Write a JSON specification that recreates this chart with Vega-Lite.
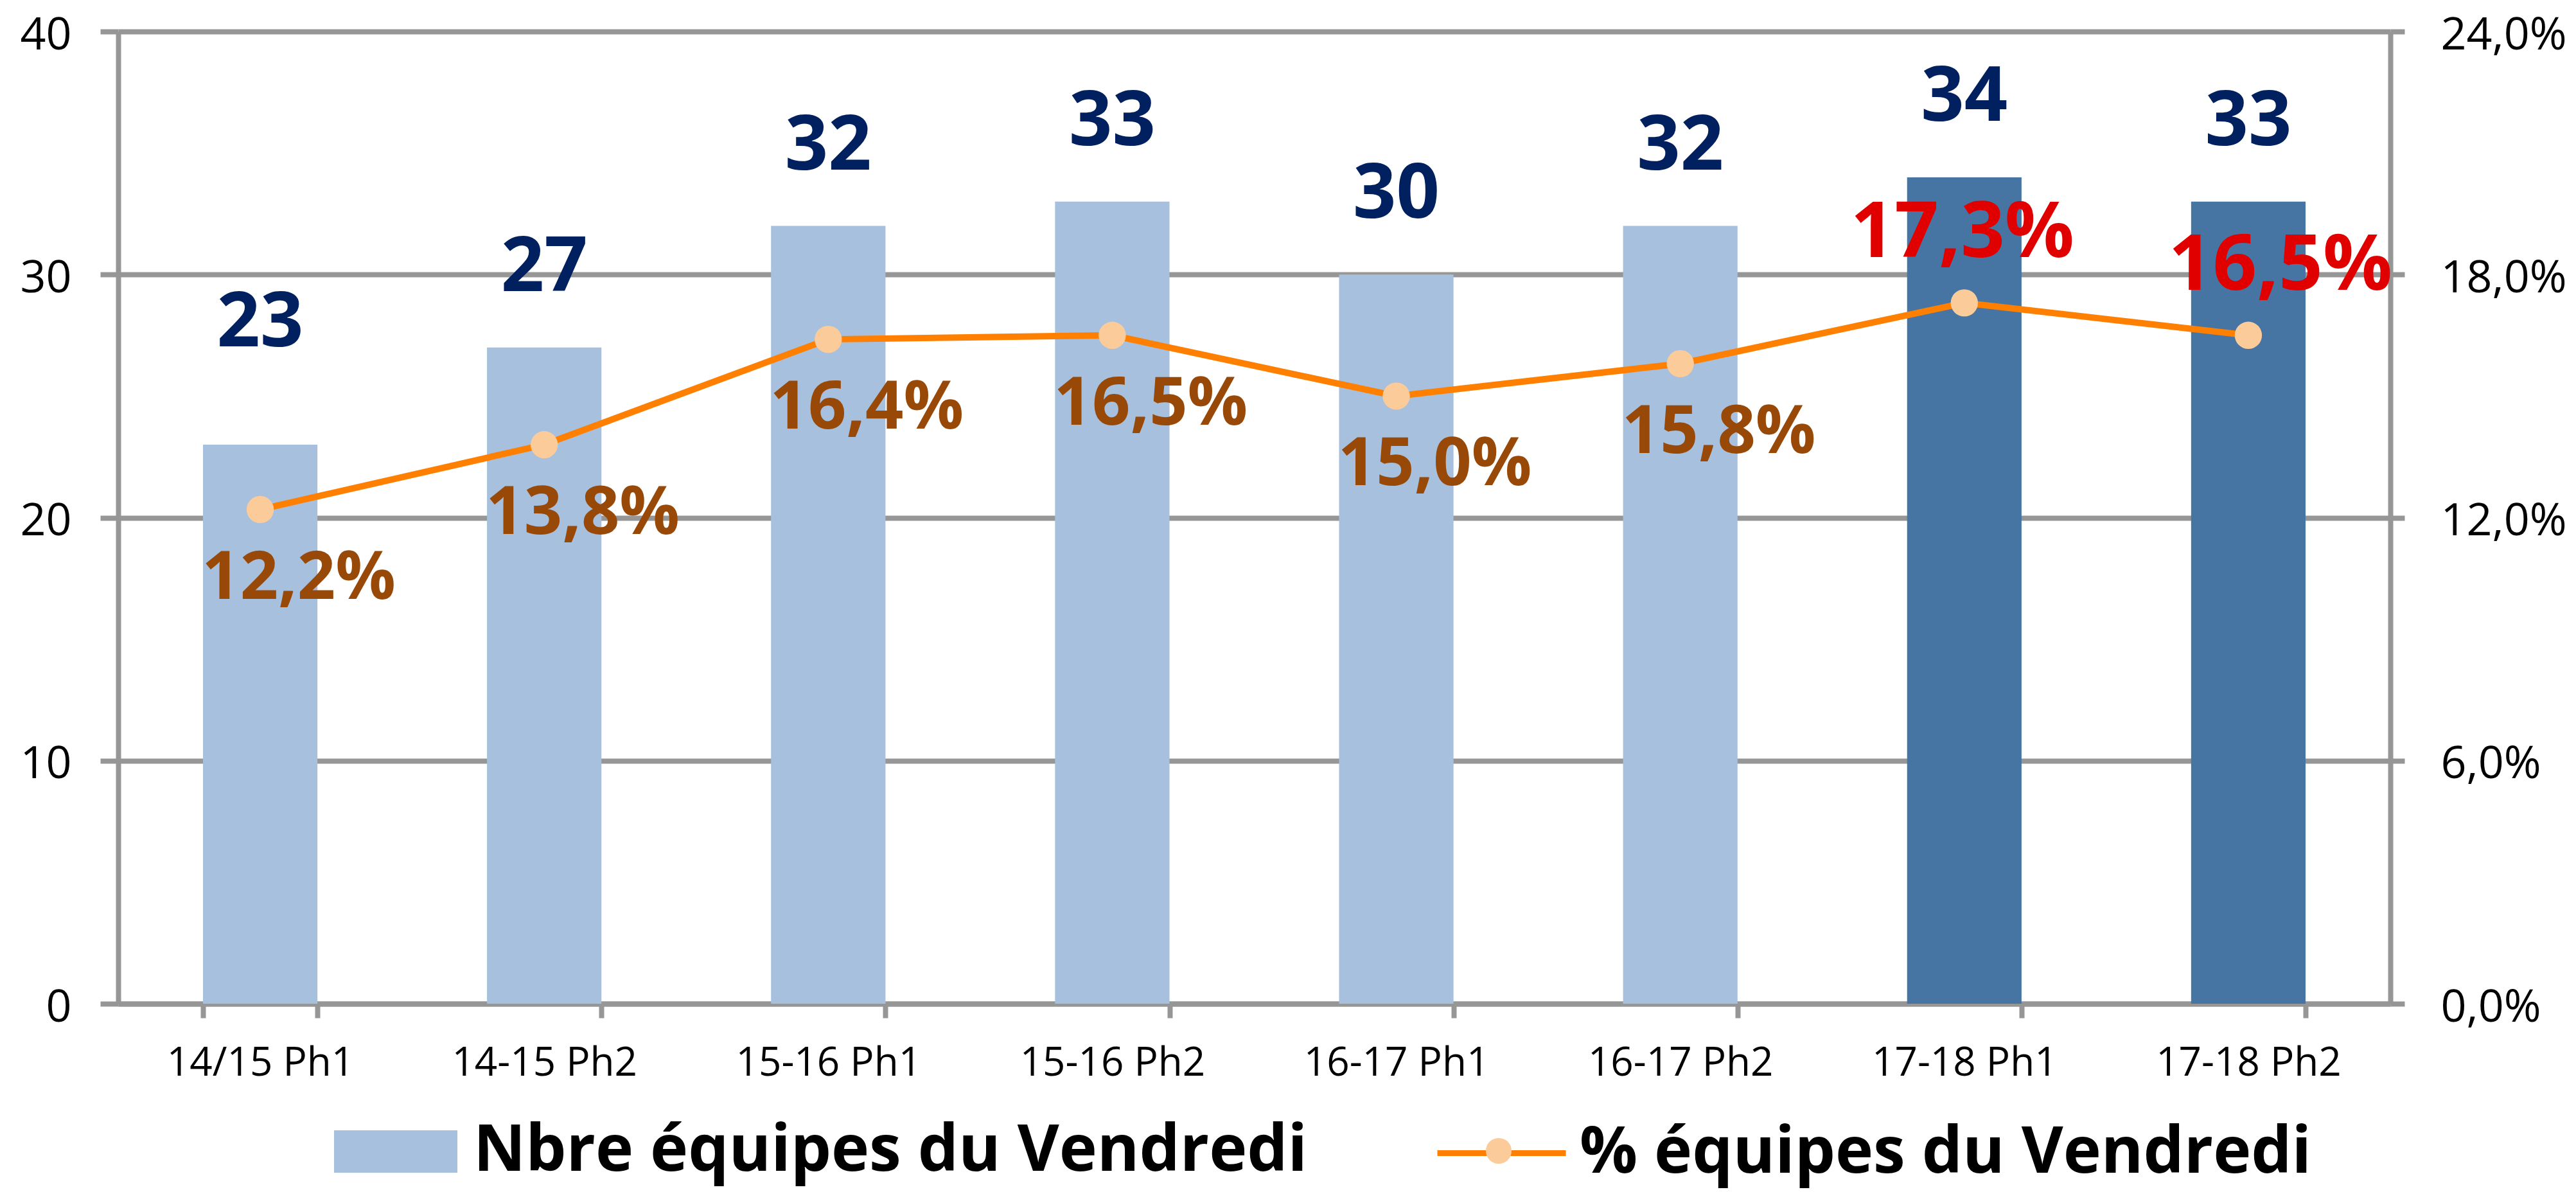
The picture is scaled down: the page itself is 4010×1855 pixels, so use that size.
{
  "$schema": "https://vega.github.io/schema/vega-lite/v6.json",
  "width": 3537,
  "height": 1513,
  "autosize": {"type": "none"},
  "padding": {"left": 184, "top": 49, "right": 289, "bottom": 293},
  "background": "white",
  "data": {
    "values": [
      {"cat": "14/15 Ph1", "nb": 23, "pct": 0.122},
      {"cat": "14-15 Ph2", "nb": 27, "pct": 0.138},
      {"cat": "15-16 Ph1", "nb": 32, "pct": 0.164},
      {"cat": "15-16 Ph2", "nb": 33, "pct": 0.165},
      {"cat": "16-17 Ph1", "nb": 30, "pct": 0.150},
      {"cat": "16-17 Ph2", "nb": 32, "pct": 0.158},
      {"cat": "17-18 Ph1", "nb": 34, "pct": 0.173},
      {"cat": "17-18 Ph2", "nb": 33, "pct": 0.165}
    ]
  },
  "encoding": {
    "x": {
      "field": "cat", "type": "nominal", "sort": null,
      "scale": {"paddingInner": 0.597, "paddingOuter": 0.2985},
      "axis": {"title": null, "labelAngle": 0, "tickBand": "extent", "tickSize": 22, "labelPadding": 40, "labelFontSize": 62, "grid": false}
    }
  },
  "layer": [
    {
      "encoding": {
        "y": {
          "field": "nb", "type": "quantitative",
          "scale": {"domain": [0, 40], "nice": false},
          "axis": {"title": null, "values": [0, 10, 20, 30, 40], "grid": true, "tickSize": 28, "labelPadding": 45, "labelFontSize": 70, "labelOffset": 6}
        }
      },
      "layer": [
        {
          "mark": {"type": "bar"},
          "encoding": {
            "color": {
              "datum": "Nbre équipes du Vendredi",
              "scale": {"range": ["#A7C0DE"]},
              "condition": {"test": "datum.cat == '17-18 Ph1' || datum.cat == '17-18 Ph2'", "value": "#4674A3"},
              "legend": {
                "title": null, "orient": "none", "legendX": 336, "legendY": 1647,
                "symbolType": "M-1,-0.344H1V0.344H-1Z", "symbolSize": 36864, "symbolStrokeWidth": 0,
                "labelFontSize": 100, "labelFontWeight": "bold", "labelColor": "black", "labelOffset": 25, "labelLimit": 0
              }
            }
          }
        },
        {
          "transform": [{"filter": "datum.cat != '14/15 Ph1'"}],
          "mark": {"type": "text", "dy": -123, "baseline": "middle", "fontSize": 118, "fontWeight": "bold", "color": "#002060"},
          "encoding": {"text": {"field": "nb"}}
        },
        {
          "transform": [{"filter": "datum.cat == '14/15 Ph1'"}],
          "mark": {"type": "text", "dy": -188, "baseline": "middle", "fontSize": 118, "fontWeight": "bold", "color": "#002060"},
          "encoding": {"text": {"field": "nb"}}
        }
      ]
    },
    {
      "encoding": {
        "y": {
          "field": "pct", "type": "quantitative",
          "scale": {"domain": [0, 0.24], "nice": false},
          "axis": {"orient": "right", "title": null, "values": [0, 0.06, 0.12, 0.18, 0.24], "format": ".1%", "grid": false, "tickSize": 22, "labelPadding": 56, "labelFontSize": 70, "labelOffset": 6}
        }
      },
      "layer": [
        {
          "mark": {"type": "line", "strokeWidth": 10},
          "encoding": {
            "stroke": {
              "datum": "% équipes du Vendredi",
              "scale": {"range": ["#FF7F00"]},
              "legend": {
                "title": null, "orient": "none", "legendX": 2049, "legendY": 1641,
                "symbolType": "stroke", "symbolSize": 40000, "symbolStrokeWidth": 9,
                "labelFontSize": 100, "labelFontWeight": "bold", "labelColor": "black", "labelOffset": 17, "labelLimit": 0
              }
            }
          }
        },
        {
          "mark": {"type": "point", "filled": true, "size": 1800, "opacity": 1, "color": "#FBCB9A"},
          "encoding": {
            "shape": {
              "datum": "marker",
              "scale": {"range": ["circle"]},
              "legend": {
                "title": null, "orient": "none", "legendX": 2129, "legendY": 1722,
                "symbolSize": 1600, "symbolFillColor": "#FBCB9A", "symbolStrokeWidth": 0, "symbolOpacity": 1,
                "labelExpr": "''", "labelFontSize": 10
              }
            }
          }
        },
        {
          "transform": [{"filter": "datum.cat != '17-18 Ph1' && datum.cat != '17-18 Ph2'"}],
          "mark": {"type": "text", "dy": 108, "dx": 60, "baseline": "middle", "fontSize": 104, "fontWeight": "bold", "color": "#984807"},
          "encoding": {"text": {"field": "pct", "format": ".1%"}}
        },
        {
          "transform": [{"filter": "datum.cat == '17-18 Ph1'"}],
          "mark": {"type": "text", "dy": -107, "dx": -3, "baseline": "middle", "fontSize": 120, "fontWeight": "bold", "color": "#E00000"},
          "encoding": {"text": {"field": "pct", "format": ".1%"}}
        },
        {
          "transform": [{"filter": "datum.cat == '17-18 Ph2'"}],
          "mark": {"type": "text", "dy": -107, "dx": 50, "baseline": "middle", "fontSize": 120, "fontWeight": "bold", "color": "#E00000"},
          "encoding": {"text": {"field": "pct", "format": ".1%"}}
        }
      ]
    }
  ],
  "resolve": {"scale": {"y": "independent"}},
  "config": {
    "view": {"stroke": null},
    "font": "Open Sans",
    "locale": {"number": {"decimal": ",", "thousands": " ", "grouping": [3], "currency": ["", " €"]}},
    "axis": {
      "domainColor": "#969696", "domainWidth": 8,
      "tickColor": "#969696", "tickWidth": 8,
      "gridColor": "#969696", "gridWidth": 8, "gridOpacity": 1,
      "labelColor": "black", "labelFont": "Open Sans", "labelLimit": 0
    },
    "legend": {"labelFont": "Open Sans"}
  }
}
